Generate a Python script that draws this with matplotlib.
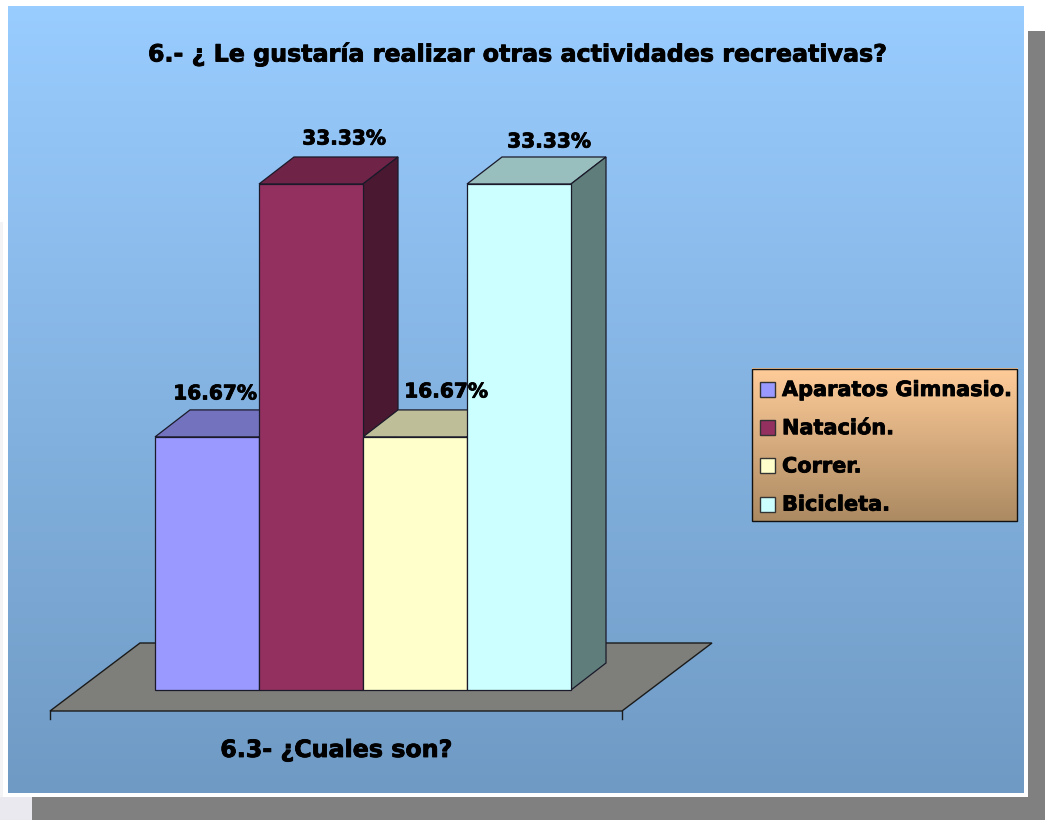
import numpy as np
import matplotlib
matplotlib.use('Agg')
import matplotlib.pyplot as plt
import matplotlib.patheffects as pe
from matplotlib.colors import LinearSegmentedColormap
from matplotlib.patches import Polygon, Rectangle

categories = ['Aparatos Gimnasio.', 'Natación.', 'Correr.', 'Bicicleta.']
values = [16.67, 33.33, 16.67, 33.33]
value_labels = ['16.67%', '33.33%', '16.67%', '33.33%']
front_colors = ['#9999FF', '#93305F', '#FFFFCC', '#CCFFFF']
top_colors = ['#7272BE', '#6E2347', '#BEBE98', '#98BEBE']
side_colors = ['#4D4D80', '#4A1830', '#80806A', '#5F7D7B']
label_shift = [(8, 43), (33, 45), (31, 45), (30, 42)]  # px from top of bar

title = '6.- ¿ Le gustaría realizar otras actividades recreativas?'
xlabel = '6.3- ¿Cuales son?'

W, H = 1045, 820
plt.rcParams['font.family'] = ['DejaVu Sans']

fig = plt.figure(figsize=((W + 0.01) / 100, (H + 0.01) / 100), dpi=100, facecolor='white')

# page layer in pixels (y down)
bg = fig.add_axes([0, 0, 1, 1])
bg.set_xlim(0, W)
bg.set_ylim(H, 0)
bg.axis('off')
bg.add_patch(Rectangle((0, 797), 32, 23, fc='#E9E9EF', ec='none'))
bg.add_patch(Rectangle((0, 222), 3, 575, fc='#F3F3F6', ec='none'))
bg.add_patch(Rectangle((1028, 31), 17, 789, fc='#808080', ec='none'))
bg.add_patch(Rectangle((32, 797), 1013, 23, fc='#808080', ec='none'))
bg.add_patch(Rectangle((3, 3), 1025, 794, fc='white', ec='none'))

panel = LinearSegmentedColormap.from_list('panel', ['#99CCFF', '#6F9AC4'])
bg.imshow(np.linspace(0, 1, 256)[:, None], cmap=panel, aspect='auto', zorder=2,
          extent=(8, 1023, 793, 7))
sand = LinearSegmentedColormap.from_list('sand', ['#FFCC99', '#AC8A62'])
bg.imshow(np.linspace(0, 1, 256)[:, None], cmap=sand, aspect='auto', zorder=3,
          extent=(752, 1017, 521, 369))
bg.add_patch(Rectangle((752, 369), 265, 152, fc='none', ec='#111111', lw=1, zorder=4))
bg.set_xlim(0, W)
bg.set_ylim(H, 0)

# chart axes: one category = 104 px, 33.33 = 506 px, bars start at (155, 690)
px_x = 104
px_y = 506 / 33.33
ax = fig.add_axes([0, 0, 1, 1], zorder=5)
ax.patch.set_alpha(0)
ax.axis('off')
ax.set_xlim(-155 / px_x, (W - 155) / px_x)
ax.set_ylim(-(H - 690) / px_y, 690 / px_y)

dx = 35 / px_x  # bar depth
dy = 27 / px_y
edge = '#1A1A2A'

# floor
fl = -105 / px_x
fr = (622 - 155) / px_x
fy = -21 / px_y
fdx, fdy = 90 / px_x, 68 / px_y
ax.add_patch(Polygon([(fl, fy), (fr, fy), (fr + fdx, fy + fdy), (fl + fdx, fy + fdy)],
                     fc='#7E7F7A', ec='#1A1A1A', lw=1))
for x0 in (fl, fr):
    ax.plot([x0, x0], [fy, fy - 8 / px_y], color='#1A1A1A', lw=1)

xs = np.arange(len(values))
ax.bar(xs, values, width=1, align='edge', color=front_colors, edgecolor=edge, lw=0.9, zorder=3)
for i, v in enumerate(values):
    ax.add_patch(Polygon([(i, v), (i + 1, v), (i + 1 + dx, v + dy), (i + dx, v + dy)],
                         fc=top_colors[i], ec=edge, lw=0.9, zorder=2))
    ax.add_patch(Polygon([(i + 1, 0), (i + 1 + dx, dy), (i + 1 + dx, v + dy), (i + 1, v)],
                         fc=side_colors[i], ec=edge, lw=0.9, zorder=2))

heavy = [pe.withStroke(linewidth=0.6, foreground='black')]
for i, v in enumerate(values):
    sx, sy = label_shift[i]
    ax.text(i + 0.5 + sx / px_x, v + sy / px_y, value_labels[i], ha='center', va='center',
            fontsize=14.5, fontweight='bold', path_effects=heavy, zorder=6)

bg.text(517, 54, title, ha='center', va='center', fontsize=17.1, fontweight='bold',
        path_effects=heavy, zorder=6)
bg.text(336, 750, xlabel, ha='center', va='center', fontsize=17.1, fontweight='bold',
        path_effects=heavy, zorder=6)

# legend
for i, name in enumerate(categories):
    yc = 389.5 + i * 38.2
    bg.add_patch(Rectangle((760, yc - 7.5), 15, 15, fc=front_colors[i], ec='#333333', lw=1, zorder=5))
    bg.text(782, yc + 0.5, name, ha='left', va='center', fontsize=15, fontweight='bold',
            path_effects=heavy, zorder=6)

fig.savefig('out.png', dpi=100)
plt.close()
